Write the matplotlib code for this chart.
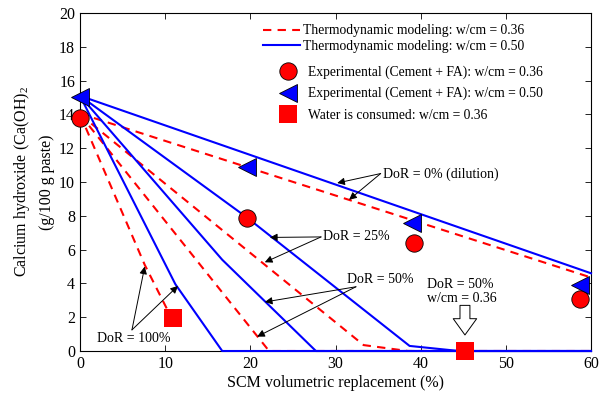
import matplotlib
matplotlib.use("Agg")
import matplotlib.pyplot as plt
from matplotlib.lines import Line2D

plt.rcParams['font.family'] = ['Liberation Serif', 'DejaVu Serif']
plt.rcParams['mathtext.fontset'] = 'custom'
plt.rcParams['mathtext.rm'] = 'Liberation Serif'
plt.rcParams['mathtext.it'] = 'Liberation Serif:italic'

# Thermodynamic modeling, w/cm = 0.50 (blue solid)
blue_0_x = [0, 60]
blue_0_y = [15.1, 4.6]
blue_25_x = [0, 19.6, 38.7, 44.5, 60]
blue_25_y = [15.1, 7.9, 0.3, 0, 0]
blue_50_x = [0, 16.7, 27.7, 60]
blue_50_y = [15.1, 5.4, 0, 0]
blue_100_x = [0, 11.2, 16.7, 60]
blue_100_y = [15.1, 3.95, 0, 0]

# Thermodynamic modeling, w/cm = 0.36 (red dashed)
red_0_x = [0, 60]
red_0_y = [14.05, 4.35]
red_25_x = [0, 33.3, 38.5, 60]
red_25_y = [14.0, 0.35, 0, 0]
red_50_x = [0, 22.2, 45.2]
red_50_y = [14.0, 0, 0]
red_100_x = [0, 7.6, 10.2]
red_100_y = [14.0, 5.1, 2.5]

# Experimental
exp36_x = [0, 19.6, 39.2, 58.7]
exp36_y = [13.8, 7.85, 6.4, 3.05]
exp50_x = [0, 19.6, 39.0, 58.7]
exp50_y = [15.05, 10.9, 7.6, 3.9]
water_x = [10.9, 45.2]
water_y = [1.95, 0]

xticks = [0, 10, 20, 30, 40, 50, 60]
yticks = [0, 2, 4, 6, 8, 10, 12, 14, 16, 18, 20]

fig = plt.figure(figsize=(6.02, 3.96), dpi=100)
ax = fig.add_axes([80/602, 45/396, 511/602, 338/396])

dash = (0, (4, 3))
lw = 1.5
for xs, ys in [(red_0_x, red_0_y), (red_25_x, red_25_y), (red_50_x, red_50_y), (red_100_x, red_100_y)]:
    ax.plot(xs, ys, color='red', lw=lw, linestyle=dash, zorder=2)
for xs, ys in [(blue_0_x, blue_0_y), (blue_25_x, blue_25_y), (blue_50_x, blue_50_y), (blue_100_x, blue_100_y)]:
    ax.plot(xs, ys, color='blue', lw=lw, zorder=3, clip_on=False)

ms = 12.5
ax.plot(exp36_x, exp36_y, 'o', color='red', mec='black', mew=0.6, ms=ms, ls='none', zorder=5, clip_on=False)
ax.plot(exp50_x, exp50_y, '<', color='blue', mec='black', mew=0.6, ms=ms, ls='none', zorder=6, clip_on=False)
ax.plot(water_x, water_y, 's', color='red', mec='red', mew=0.0, ms=12.5, ls='none', zorder=6, clip_on=False)

ax.set_xlim(0, 60)
ax.set_ylim(0, 20)
ax.set_xticks(xticks)
ax.set_yticks(yticks)
ax.tick_params(direction='in', top=True, right=True, labelsize=11.5, length=4, width=0.6)
for s in ax.spines.values():
    s.set_linewidth(0.8)
ax.set_xlabel('SCM volumetric replacement (%)', fontsize=11.5, labelpad=2)
ax.set_ylabel('Calcium hydroxide (Ca(OH)$_2$\n(g/100 g paste)', fontsize=11.5, labelpad=3, linespacing=1.55)

# annotations
fs = 10
aprops = dict(arrowstyle='-|>', color='black', lw=0.7, shrinkA=0, shrinkB=0, mutation_scale=11)

def arrows(origin, targets):
    for t in targets:
        ax.annotate('', xy=t, xytext=origin, arrowprops=aprops, zorder=7)

ax.text(35.6, 10.45, 'DoR = 0% (dilution)', fontsize=fs, ha='left', va='center')
arrows((35.3, 10.5), [(30.2, 9.94), (31.6, 8.95)])

ax.text(28.5, 6.75, 'DoR = 25%', fontsize=fs, ha='left', va='center')
arrows((28.3, 6.75), [(22.3, 6.72), (21.7, 5.25)])

ax.text(31.3, 4.25, 'DoR = 50%', fontsize=fs, ha='left', va='center')
arrows((32.4, 3.8), [(21.7, 2.9), (20.8, 0.85)])

ax.text(6.3, 0.75, 'DoR = 100%', fontsize=fs, ha='center', va='center')
arrows((6.1, 1.25), [(7.6, 5.0), (11.5, 3.85)])

ax.text(40.7, 3.55, 'DoR = 50%\nw/cm = 0.36', fontsize=fs, ha='left', va='center', linespacing=1.1)
ax.annotate('', xy=(45.2, 0.95), xytext=(45.2, 2.7),
            arrowprops=dict(arrowstyle='simple,head_length=0.9,head_width=1.3,tail_width=0.55',
                            fc='white', ec='black', lw=0.7, shrinkA=0, shrinkB=0, mutation_scale=13), zorder=7)

# legends
lfs = 9.8
h1 = [Line2D([], [], color='red', lw=lw, linestyle=dash),
      Line2D([], [], color='blue', lw=lw)]
l1 = ['Thermodynamic modeling: w/cm = 0.36', 'Thermodynamic modeling: w/cm = 0.50']
leg1 = ax.legend(h1, l1, loc='upper left', bbox_to_anchor=(0.358, 0.966), frameon=False,
                 fontsize=lfs, handlelength=2.75, handletextpad=0.2, labelspacing=0.15,
                 borderpad=0, borderaxespad=0)
ax.add_artist(leg1)
h2 = [Line2D([], [], marker='o', color='red', mec='black', mew=0.6, ms=ms, ls='none'),
      Line2D([], [], marker='<', color='blue', mec='black', mew=0.6, ms=ms, ls='none'),
      Line2D([], [], marker='s', color='red', mew=0, ms=12.5, ls='none')]
l2 = ['Experimental (Cement + FA): w/cm = 0.36', 'Experimental (Cement + FA): w/cm = 0.50',
      'Water is consumed: w/cm = 0.36']
ax.legend(h2, l2, loc='upper left', bbox_to_anchor=(0.387, 0.846), frameon=False,
          fontsize=lfs, handlelength=1.45, handletextpad=0.75, labelspacing=0.62,
          borderpad=0, borderaxespad=0)

fig.savefig('out.png', dpi=100)
